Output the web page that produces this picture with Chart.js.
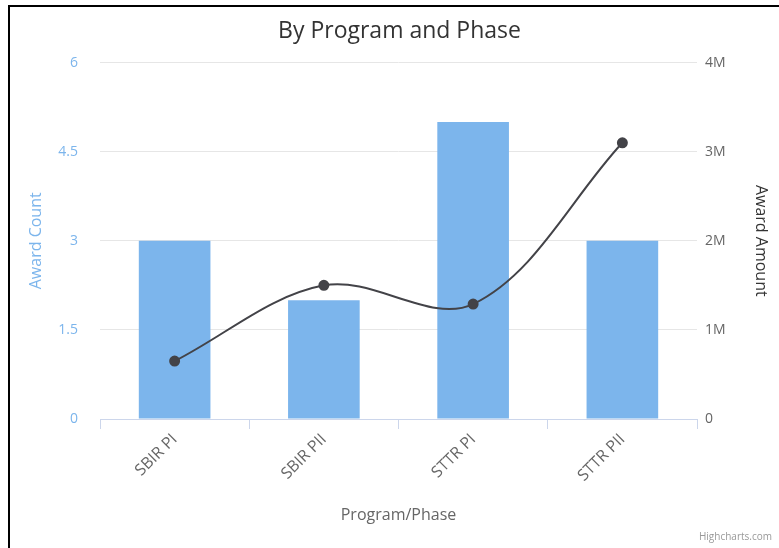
<!DOCTYPE html>
<html>
<head>
<meta charset="utf-8">
<script src="https://cdn.jsdelivr.net/npm/chart.js@4/dist/chart.umd.min.js"></script>
<style>
  body { margin: 0; background: #fff; }
  #wrap { position: relative; width: 779px; height: 548px; }
  #frame { position: absolute; left: 8px; top: 5px; right: 0; bottom: 0; border-top: 2px solid #000; border-left: 2px solid #000; pointer-events: none; }
</style>
</head>
<body>
<div id="wrap">
  <canvas id="chart" width="779" height="548"></canvas>
  <div id="frame"></div>
</div>
<script>
const categories = ["SBIR PI", "SBIR PII", "STTR PI", "STTR PII"];
const awardCounts = [3, 2, 5, 3];
const awardAmounts = [650000, 1500000, 1290000, 3100000];
const countTicks = [0, 1.5, 3, 4.5, 6];

const font = "'Open Sans', 'DejaVu Sans', sans-serif";

// small credit text in the lower right corner
const credits = {
  id: "credits",
  afterDraw(chart) {
    const ctx = chart.ctx;
    ctx.save();
    ctx.font = "10px " + font;
    ctx.fillStyle = "#999";
    ctx.textAlign = "right";
    ctx.textBaseline = "middle";
    ctx.fillText("Highcharts.com", 772, 537);
    ctx.restore();
  }
};

new Chart("chart", {
  data: {
    labels: categories,
    datasets: [
      {
        type: "line",
        label: "Award Amount",
        data: awardAmounts,
        yAxisID: "amount",
        borderColor: "#434348",
        backgroundColor: "#434348",
        borderWidth: 2,
        pointRadius: 4.5,
        tension: 0.35,
        order: 0
      },
      {
        type: "bar",
        label: "Award Count",
        data: awardCounts,
        yAxisID: "count",
        backgroundColor: "#7cb5ec",
        barPercentage: 1,
        categoryPercentage: 0.48,
        order: 1
      }
    ]
  },
  options: {
    responsive: false,
    animation: false,
    layout: { padding: { left: 20 } },
    plugins: {
      legend: { display: false },
      tooltip: { enabled: false },
      title: {
        display: true,
        text: "By Program and Phase",
        color: "#333",
        font: { family: font, size: 23, weight: "normal" },
        padding: { top: 18, bottom: 17 }
      }
    },
    scales: {
      x: {
        afterFit: s => { s.height = 129; },
        grid: { drawOnChartArea: false, color: "#ccd6eb", tickLength: 10, offset: true },
        border: { color: "#ccd6eb" },
        ticks: {
          color: "#666", font: { family: font, size: 16 },
          minRotation: 45, maxRotation: 45, padding: 1
        },
        title: {
          display: true, text: "Program/Phase", color: "#666",
          font: { family: font, size: 16 }, padding: { bottom: 23 }
        }
      },
      count: {
        position: "left",
        min: 0, max: 6,
        afterFit: s => { s.width = 80; },
        afterBuildTicks: s => { s.ticks = countTicks.map(v => ({ value: v })); },
        grid: { color: "#e6e6e6", drawTicks: false },
        border: { display: false },
        ticks: { color: "#7cb5ec", font: { family: font, size: 14 }, padding: 22 },
        title: {
          display: true, text: "Award Count", color: "#7cb5ec",
          font: { family: font, size: 16 }, padding: { top: 7 }
        }
      },
      amount: {
        position: "right",
        min: 0, max: 4000000,
        afterFit: s => { s.width = 82; },
        grid: { drawOnChartArea: false, drawTicks: false },
        border: { display: false },
        ticks: {
          stepSize: 1000000, color: "#666", font: { family: font, size: 14 }, padding: 8,
          callback: v => v === 0 ? "0" : (v / 1000000) + "M"
        },
        title: {
          display: true, text: "Award Amount", color: "#333",
          font: { family: font, size: 16 }, padding: { top: 9 }
        }
      }
    }
  },
  plugins: [credits]
});
</script>
</body>
</html>
